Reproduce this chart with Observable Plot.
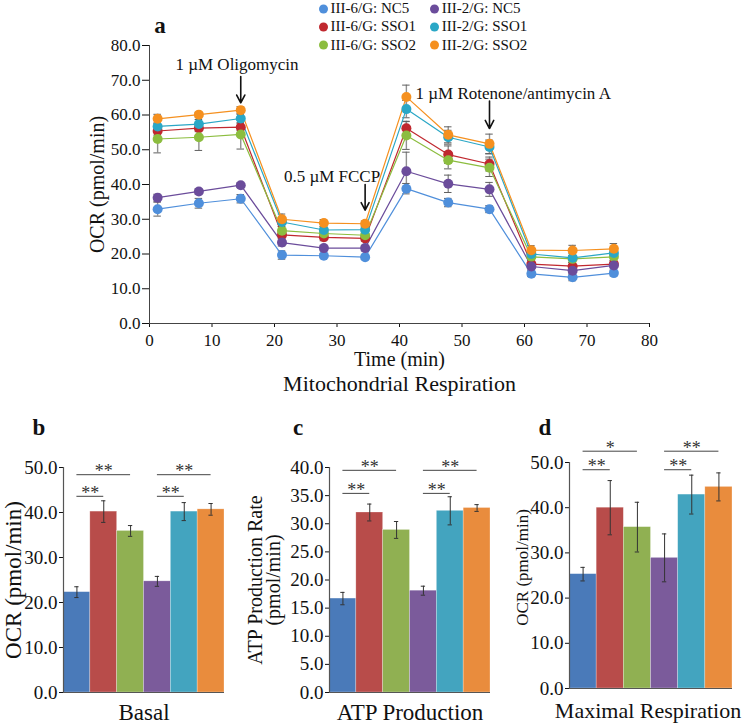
<!DOCTYPE html>
<html><head><meta charset="utf-8">
<script src="https://cdn.jsdelivr.net/npm/d3@7"></script>
<script src="https://cdn.jsdelivr.net/npm/@observablehq/plot@0.6"></script>
<style>
body{margin:0;background:#fff;font-family:"Liberation Serif","Times New Roman",serif;color:#111;}
#root{position:relative;width:746px;height:725px;overflow:hidden;}
.letter{position:absolute;font-weight:bold;font-size:23px;line-height:1;transform:translate(-50%,-50%);}
.leg{position:absolute;font-size:15px;line-height:1;white-space:nowrap;transform:translateY(-50%);}
.leg .dot{display:inline-block;width:9px;height:9px;border-radius:50%;margin-right:3px;vertical-align:-0.5px;}
svg{overflow:visible;}
</style></head><body><div id="root"></div>
<script>
// ---------- data ----------
const seriesNames = ["III-6/G: NC5","III-6/G: SSO1","III-6/G: SSO2","III-2/G: NC5","III-2/G: SSO1","III-2/G: SSO2"];
const lineColors = ["#4f8fdb","#c0282f","#8cbd3f","#6b4c9b","#2aa7c6","#f5901f"];
const barColors  = ["#4a7ab9","#b84c4a","#90b052","#7b5b9b","#43a4bf","#e98c3d"];

const times = [1.3,7.9,14.6,21.2,27.9,34.5,41.1,47.8,54.4,61.1,67.7,74.3];
const ocrIII6NC5  = [32.9,34.6,35.9,19.7,19.5,19.1,38.8,34.8,32.9,14.3,13.3,14.5];
const ocrIII6SSO1 = [55.4,56.2,56.5,25.5,24.8,24.5,56.2,48.6,45.9,17.1,16.5,17.1];
const ocrIII6SSO2 = [53.1,53.6,54.4,26.7,25.9,25.4,54.1,47.0,44.8,19.2,18.6,19.2];
const ocrIII2NC5  = [36.2,38.0,39.8,23.3,21.7,21.7,43.8,40.2,38.6,16.4,15.2,16.7];
const ocrIII2SSO1 = [56.7,57.4,59.0,29.2,26.9,27.0,61.7,53.6,50.8,20.0,18.9,20.3];
const ocrIII2SSO2 = [58.9,60.1,61.4,30.0,28.9,28.7,65.2,54.3,51.7,21.1,21.0,21.5];
const errIII6NC5  = [2.0,1.4,1.2,1.2,0.6,0.6,1.5,1.2,1.0,0.8,1.0,0.8];
const errIII6SSO1 = [1.2,1.0,1.0,1.0,1.0,0.8,2.0,2.5,2.0,1.0,1.0,1.0];
const errIII6SSO2 = [4.0,3.8,4.2,1.2,1.0,1.0,4.0,2.5,2.5,1.0,1.0,1.0];
const errIII2NC5  = [1.0,0.8,0.7,1.0,0.8,0.8,5.5,2.5,2.0,1.0,1.0,1.0];
const errIII2SSO1 = [1.0,1.3,1.2,1.3,1.0,1.0,2.5,2.0,2.0,1.0,1.3,1.2];
const errIII2SSO2 = [1.3,0.7,1.0,1.5,1.0,0.8,3.4,2.3,2.8,1.3,1.5,1.5];

const injectTimes  = [14.6,34.5,54.4];
const injectFrom   = [71.1,40.0,64.0];
const injectTo     = [63.5,32.6,56.1];
const injectLabels = ["1 \u00b5M Oligomycin","0.5 \u00b5M FCCP","1 \u00b5M Rotenone/antimycin A"];
const injectLabelX = [14.0,29.2,58.2];
const injectLabelY = [74.4,42.4,66.3];

const aTicksX = [0,10,20,30,40,50,60,70,80];
const aTicksY = [0,10,20,30,40,50,60,70,80];

const basalVals = [22.3,40.2,35.9,24.7,40.2,40.7];
const basalErr  = [1.2,2.4,1.2,1.1,2.0,1.3];
const atpVals   = [16.7,32.0,28.9,18.1,32.3,32.8];
const atpErr    = [1.1,1.5,1.5,0.8,2.5,0.6];
const maxVals   = [25.3,40.0,35.7,28.9,42.9,44.6];
const maxErr    = [1.5,6.0,5.5,5.3,4.3,3.1];
const basalTicks = [0,10,20,30,40,50];
const atpTicks   = [0,5,10,15,20,25,30,35,40];
const maxTicks   = [0,10,20,30,40,50];

// significance brackets
const sigFrom  = [0,0,3,3];
const sigTo    = [2,1,5,4];
const sigBasalY = [48.4,43.6,48.4,43.6];
const sigAtpY   = [39.5,35.4,39.5,35.4];
const sigMaxY   = [52.5,48.4,52.5,48.4];
const sigBasalL = ["**","**","**","**"];
const sigAtpL   = ["**","**","**","**"];
const sigMaxL   = ["*","**","**","**"];

// ---------- helpers ----------
const root = document.getElementById("root");
const FONT = "Liberation Serif, Times New Roman, serif";
function place(el, left, top){ el.style.position="absolute"; el.style.left=left+"px"; el.style.top=top+"px"; root.appendChild(el); }
function letter(t,x,y){ const d=document.createElement("div"); d.className="letter"; d.textContent=t; d.style.left=x+"px"; d.style.top=y+"px"; root.appendChild(d); }

// ---------- legend ----------
seriesNames.forEach((name,i)=>{
  const col = Math.floor(i/3), row = i%3;
  const d = document.createElement("div"); d.className="leg";
  d.style.left = (col===0?318.5:429.8)+"px";
  d.style.top = (8+row*18.3)+"px";
  d.innerHTML = `<span class="dot" style="background:${lineColors[i]}"></span>${name}`;
  root.appendChild(d);
});
letter("a",160,25);

// ---------- panel a ----------
const seriesVals = [ocrIII6NC5,ocrIII6SSO1,ocrIII6SSO2,ocrIII2NC5,ocrIII2SSO1,ocrIII2SSO2];
const seriesErr  = [errIII6NC5,errIII6SSO1,errIII6SSO2,errIII2NC5,errIII2SSO1,errIII2SSO2];
const rows = [];
seriesNames.forEach((name,si)=>times.forEach((t,i)=>rows.push({series:name,t,v:seriesVals[si][i],e:seriesErr[si][i]})));
const injections = injectTimes.map((t,i)=>({t,from:injectFrom[i],to:injectTo[i],label:injectLabels[i],tx:injectLabelX[i],ty:injectLabelY[i]}));

const pa = Plot.plot({
  width:700, height:365, marginLeft:149, marginRight:51, marginTop:15, marginBottom:72,
  style:{fontFamily:FONT,fontSize:"17px",color:"#111",background:"transparent",overflow:"visible"},
  x:{domain:[0,80]}, y:{domain:[0,80]},
  color:{domain:seriesNames, range:lineColors},
  marks:[
    Plot.axisY(aTicksY,{tickFormat:d3.format(".1f"),tickSize:7,tickPadding:2,label:null,fontSize:17}),
    Plot.axisX(aTicksX,{tickSize:4,tickPadding:6,label:null,fontSize:17}),
    Plot.ruleX([0],{stroke:"#444"}),
    Plot.ruleY([0],{stroke:"#444"}),
    Plot.ruleX(rows,{x:"t",y1:d=>d.v-d.e,y2:d=>d.v+d.e,stroke:"#909090",strokeWidth:1.4}),
    Plot.ruleY(rows,{y:d=>d.v+d.e,x1:d=>d.t-0.6,x2:d=>d.t+0.6,stroke:"#606060",strokeWidth:1}),
    Plot.ruleY(rows,{y:d=>d.v-d.e,x1:d=>d.t-0.6,x2:d=>d.t+0.6,stroke:"#606060",strokeWidth:1}),
    Plot.line(rows,{x:"t",y:"v",z:"series",stroke:"series",strokeWidth:1.2}),
    Plot.dot(rows,{x:"t",y:"v",fill:"series",r:5}),
    Plot.arrow(injections,{x1:"t",x2:"t",y1:"from",y2:"to",stroke:"#111",strokeWidth:1.6,headLength:9,headAngle:55}),
    Plot.text(injections,{x:"tx",y:"ty",text:"label",fontSize:17,fill:"#111"}),
    Plot.text(["OCR (pmol/min)"],{frameAnchor:"left",textAnchor:"middle",lineAnchor:"middle",rotate:-90,dx:-52,fontSize:20,fill:"#111"}),
    Plot.text(["Time (min)"],{frameAnchor:"bottom",lineAnchor:"middle",dy:36,fontSize:20,fill:"#111"}),
    Plot.text(["Mitochondrial Respiration"],{frameAnchor:"bottom",lineAnchor:"middle",dy:60,fontSize:22,fill:"#111"})
  ]
});
place(pa,0,30);

// ---------- bar panels ----------
function barPanel(o){
  const data = o.vals.map((v,i)=>({i,name:seriesNames[i],v,e:o.errs[i]}));
  const sig = o.sigY.map((y,k)=>({a:sigFrom[k],b:sigTo[k],y,label:o.sigL[k]}));
  const marks = [
    Plot.rectY(data,{x1:"i",x2:d=>d.i+1,y:"v",fill:"name",stroke:"#fff",strokeOpacity:0.45,strokeWidth:0.6}),
    Plot.ruleX(data,{x:d=>d.i+0.5,y1:d=>d.v-d.e,y2:d=>d.v+d.e,stroke:"#333",strokeWidth:1}),
    Plot.ruleY(data,{y:d=>d.v+d.e,x1:d=>d.i+0.42,x2:d=>d.i+0.58,stroke:"#333",strokeWidth:1}),
    Plot.ruleY(data,{y:d=>d.v-d.e,x1:d=>d.i+0.42,x2:d=>d.i+0.58,stroke:"#333",strokeWidth:1}),
    Plot.axisY(o.ticks,{tickFormat:d3.format(".1f"),tickSize:4,tickPadding:2,label:null,fontSize:o.tickFont}),
    Plot.ruleX([0],{stroke:"#555",strokeWidth:1.2}),
    Plot.ruleY([0],{stroke:"#555",strokeWidth:1.2}),
    Plot.ruleY(sig,{y:"y",x1:d=>d.a+0.5,x2:d=>d.b+0.5,stroke:"#444",strokeWidth:1}),
    Plot.text(sig,{x:d=>(d.a+d.b+1)/2,y:"y",text:"label",dy:-3,fontSize:18,fill:"#333"}),
    Plot.text([o.title],{frameAnchor:"bottom",lineAnchor:"middle",dy:o.titleDy,dx:o.titleDx||0,fontSize:o.titleSize,fill:"#111"})
  ];
  o.yLabels.forEach(l=>marks.push(Plot.text([l.text],{frameAnchor:"left",textAnchor:"middle",lineAnchor:"middle",rotate:-90,dx:l.dx,dy:l.dy||0,fontSize:l.size,fill:"#111"})));
  const p = Plot.plot({
    width:o.width,height:o.height,marginLeft:o.mL,marginRight:o.mR,marginTop:o.mT,marginBottom:o.mB,
    style:{fontFamily:FONT,fontSize:"19px",color:"#111",background:"transparent",overflow:"visible"},
    x:{domain:[0,6],axis:null}, y:{domain:[0,o.max]},
    color:{domain:seriesNames,range:barColors},
    marks
  });
  place(p,o.left,o.top);
}

barPanel({vals:basalVals,errs:basalErr,ticks:basalTicks,max:50,sigY:sigBasalY,sigL:sigBasalL,
  title:"Basal",titleDy:20,titleSize:23,tickFont:19,left:0,top:440,width:240,height:285,mL:63,mR:16,mT:27,mB:33,
  yLabels:[{text:"OCR (pmol/min)",dx:-50,size:23}]});
barPanel({vals:atpVals,errs:atpErr,ticks:atpTicks,max:40,sigY:sigAtpY,sigL:sigAtpL,
  title:"ATP Production",titleDy:20,titleSize:23,tickFont:19,left:240,top:440,width:252,height:285,mL:89,mR:2,mT:27,mB:33,
  yLabels:[{text:"ATP Production Rate",dx:-74,size:20},{text:"(pmol/min)",dx:-56,size:20}]});
barPanel({vals:maxVals,errs:maxErr,ticks:maxTicks,max:50,sigY:sigMaxY,sigL:sigMaxL,
  title:"Maximal Respiration",titleDy:22,titleDx:-3,titleSize:22,tickFont:19,left:490,top:410,width:256,height:315,mL:79,mR:14,mT:52,mB:37,
  yLabels:[{text:"OCR (pmol/min)",dx:-47,dy:-8,size:17}]});

letter("b",39,427);
letter("c",298,427);
letter("d",545,427);
</script></body></html>
